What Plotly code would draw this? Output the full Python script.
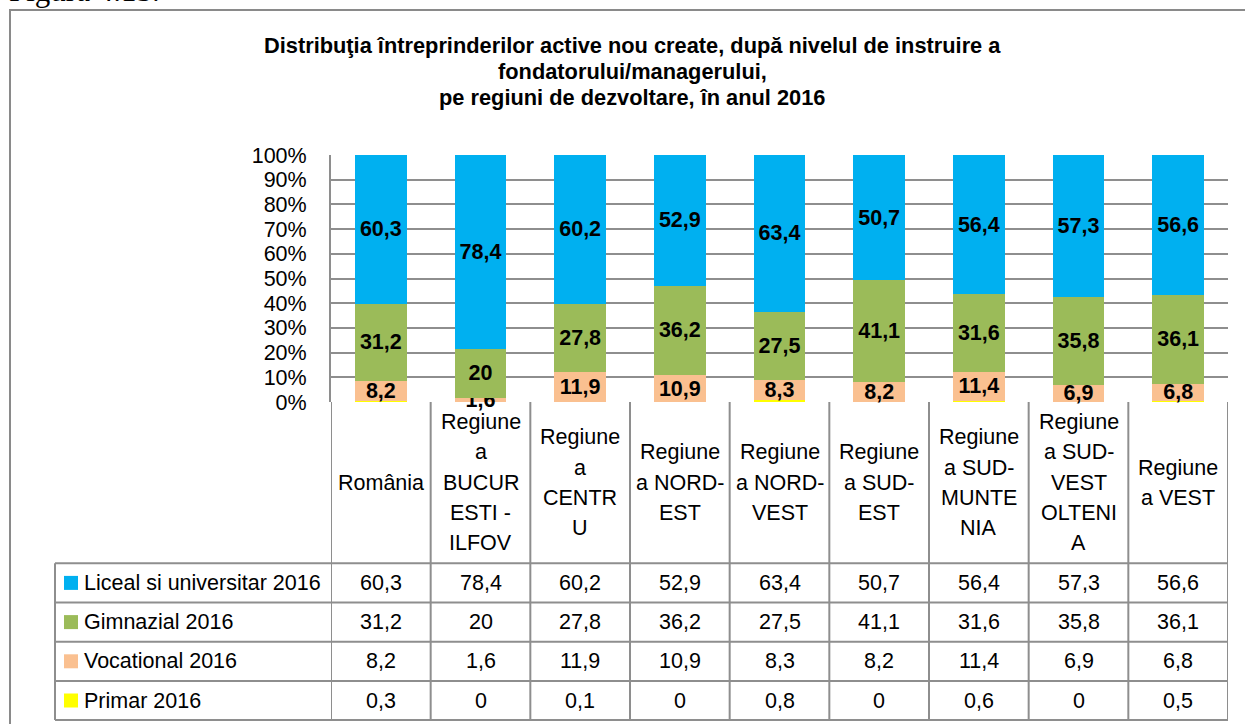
import plotly.graph_objects as go

# ---------------- data ----------------
categories = ["România", "Regiune a BUCURESTI - ILFOV", "Regiune a CENTRU",
              "Regiune a NORD-EST", "Regiune a NORD-VEST", "Regiune a SUD-EST",
              "Regiune a SUD-MUNTENIA", "Regiune a SUD-VEST OLTENIA", "Regiune a VEST"]
header_lines = [["România"],
                ["Regiune", "a", "BUCUR", "ESTI -", "ILFOV"],
                ["Regiune", "a", "CENTR", "U"],
                ["Regiune", "a NORD-", "EST"],
                ["Regiune", "a NORD-", "VEST"],
                ["Regiune", "a SUD-", "EST"],
                ["Regiune", "a SUD-", "MUNTE", "NIA"],
                ["Regiune", "a SUD-", "VEST", "OLTENI", "A"],
                ["Regiune", "a VEST"]]

series_names = ["Liceal si universitar 2016", "Gimnazial 2016", "Vocational 2016", "Primar 2016"]
liceal = [60.3, 78.4, 60.2, 52.9, 63.4, 50.7, 56.4, 57.3, 56.6]
gimnazial = [31.2, 20, 27.8, 36.2, 27.5, 41.1, 31.6, 35.8, 36.1]
vocational = [8.2, 1.6, 11.9, 10.9, 8.3, 8.2, 11.4, 6.9, 6.8]
primar = [0.3, 0, 0.1, 0, 0.8, 0, 0.6, 0, 0.5]

y_ticks = [0, 10, 20, 30, 40, 50, 60, 70, 80, 90, 100]
y_tick_labels = ["0%", "10%", "20%", "30%", "40%", "50%", "60%", "70%", "80%", "90%", "100%"]

title_lines = ["Distribuţia întreprinderilor active nou create, după nivelul de instruire a",
               "fondatorului/managerului,",
               "pe regiuni de dezvoltare, în anul 2016"]
figure_label = "Figura 4.15."

# ---------------- styles ----------------
colors = ["#00B0F0", "#9BBB59", "#FAC090", "#FFFF00"]
FONT = "Liberation Sans Narrow, Arial Narrow, Liberation Sans, Arial, sans-serif"
GRID = "#8E8E8E"

W, H = 1245, 724
L, R, T, B = 331, 17, 155, 322
PW, PH = W - L - R, H - T - B


def px_x(p):
    return (p - L) / PW


def px_y(p):
    return (H - B - p) / PH


def fmt(v):
    return ("%g" % v).replace(".", ",")


values = [liceal, gimnazial, vocational, primar]

fig = go.Figure()
# bottom to top stacking
for name, vals, col, show_text in [(series_names[3], primar, colors[3], False),
                                    (series_names[2], vocational, colors[2], True),
                                    (series_names[1], gimnazial, colors[1], True),
                                    (series_names[0], liceal, colors[0], True)]:
    fig.add_trace(go.Bar(
        x=categories, y=vals, name=name, marker=dict(color=col, line=dict(width=0)),
        text=[fmt(v) for v in vals] if show_text else None,
        textposition="inside" if show_text else "none",
        insidetextanchor="middle", constraintext="none", textangle=0,
        cliponaxis=False,
        textfont=dict(family=FONT, size=21.5, color="black", weight="bold"),
        showlegend=False, hoverinfo="skip"))

shapes = []
annotations = []

# outer frame
shapes.append(dict(type="rect", xref="paper", yref="paper",
                   x0=px_x(10), x1=px_x(1400), y0=px_y(10), y1=px_y(900),
                   line=dict(color="#8A8A8A", width=2), layer="below"))

# title lines
title_y = [46, 71.5, 97]
for t, yy in zip(title_lines, title_y):
    annotations.append(dict(text="<b>%s</b>" % t, xref="paper", yref="paper",
                            x=px_x(632), y=px_y(yy), xanchor="center", yanchor="middle",
                            showarrow=False, font=dict(family=FONT, size=21.8, color="black")))

annotations.append(dict(text=figure_label, xref="paper", yref="paper",
                        x=px_x(7), y=px_y(-9.5), xanchor="left", yanchor="middle",
                        showarrow=False,
                        font=dict(family="Liberation Serif, Times New Roman, serif", size=31, color="black")))

# table geometry
header_top, header_bottom = 402, 563.3
row_h = 39.2
rows_top = [header_bottom + i * row_h for i in range(5)]
table_left = 55

# vertical lines of the table (category boundaries)
for k in range(len(categories) + 1):
    shapes.append(dict(type="line", xref="x", yref="paper",
                       x0=k - 0.5, x1=k - 0.5, y0=px_y(header_top), y1=px_y(rows_top[-1]),
                       line=dict(color=GRID, width=2)))
# horizontal row lines
for yy in rows_top:
    shapes.append(dict(type="line", xref="paper", yref="paper",
                       x0=px_x(table_left), x1=1, y0=px_y(yy), y1=px_y(yy),
                       line=dict(color=GRID, width=2)))
shapes.append(dict(type="line", xref="paper", yref="paper",
                   x0=px_x(table_left), x1=px_x(table_left),
                   y0=px_y(rows_top[0]), y1=px_y(rows_top[-1]),
                   line=dict(color=GRID, width=2)))

# header category labels (one annotation per wrapped line)
pitch = 30.3
hc = (header_top + header_bottom) / 2
for i, lines in enumerate(header_lines):
    n = len(lines)
    for j, ln in enumerate(lines):
        yy = hc + (j - (n - 1) / 2) * pitch
        annotations.append(dict(text=ln, xref="x", yref="paper", x=i, y=px_y(yy),
                                xanchor="center", yanchor="middle", showarrow=False,
                                font=dict(family=FONT, size=21.5, color="black")))

# table rows
for r, (name, vals, col) in enumerate(zip(series_names, values, colors)):
    yc = rows_top[r] + row_h / 2
    shapes.append(dict(type="rect", xref="paper", yref="paper",
                       x0=px_x(64), x1=px_x(78), y0=px_y(yc - 7), y1=px_y(yc + 7),
                       fillcolor=col, line=dict(width=0)))
    annotations.append(dict(text=name, xref="paper", yref="paper", x=px_x(82), y=px_y(yc),
                            xanchor="left", yanchor="middle", showarrow=False,
                            font=dict(family=FONT, size=21.5, color="black")))
    for i, v in enumerate(vals):
        annotations.append(dict(text=fmt(v), xref="x", yref="paper", x=i, y=px_y(yc),
                                xanchor="center", yanchor="middle", showarrow=False,
                                font=dict(family=FONT, size=21.5, color="black")))

fig.update_layout(
    width=W, height=H, barmode="stack", barnorm="percent", bargap=0.48,
    margin=dict(l=L, r=R, t=T, b=B, pad=0, autoexpand=False),
    paper_bgcolor="white", plot_bgcolor="white",
    shapes=shapes, annotations=annotations,
    xaxis=dict(type="category", range=[-0.5, len(categories) - 0.5], showticklabels=False,
               showgrid=False, zeroline=False, showline=False, ticks=""),
    yaxis=dict(range=[0, 100], tickmode="array", tickvals=y_ticks, ticktext=y_tick_labels,
               showgrid=True, gridcolor=GRID, gridwidth=2, zeroline=False, showline=True,
               linecolor=GRID, linewidth=2, ticks="", ticklabelstandoff=18,
               tickfont=dict(family=FONT, size=21.5, color="black")),
)

fig.write_html("out.html", config={"displayModeBar": False},
               post_script="document.body.style.margin='0';document.body.style.overflow='hidden';")
